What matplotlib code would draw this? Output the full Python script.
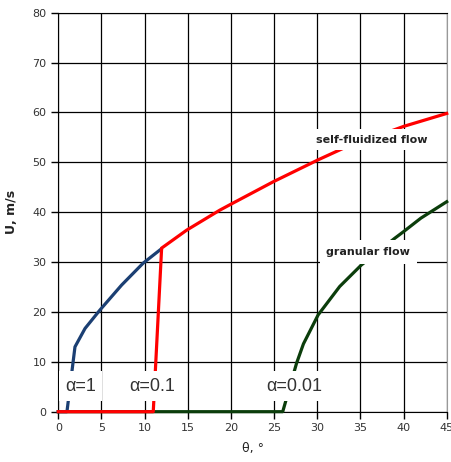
import matplotlib
matplotlib.use('Agg')
import matplotlib.pyplot as plt

# curves (theta in degrees, U in m/s)
theta_a1 = [0, 1.0, 1.93, 3.1, 4.83, 7.34, 9.84, 11.9]
U_a1 = [0, 0, 13.0, 16.7, 20.4, 25.4, 29.8, 32.6]

theta_a01 = [0, 11.0, 11.97, 14.87, 18.7, 20.1, 24.9, 30.1, 33.0, 40.0, 45.0]
U_a01 = [0, 0, 32.8, 36.4, 40.4, 41.7, 46.1, 50.5, 52.8, 57.2, 59.8]

theta_a001 = [0, 26.0, 27.6, 28.4, 30.1, 32.6, 35.1, 39.0, 40.0, 42.0, 45.0]
U_a001 = [0, 0, 9.7, 13.6, 19.4, 25.1, 29.4, 34.8, 36.1, 38.8, 42.1]

alpha_labels = ['\u03b1=1', '\u03b1=0.1', '\u03b1=0.01']
alpha_x = [0.8, 8.2, 24.1]

fig = plt.figure(figsize=(4.51, 4.62), dpi=100)
ax = fig.add_axes([0.1293, 0.1089, 0.8612, 0.8636])

ax.plot(theta_a001, U_a001, color='#0b3d0b', lw=2.3, clip_on=False, zorder=3)
ax.plot(theta_a1, U_a1, color='#1b3f73', lw=2.3, clip_on=False, zorder=3)
ax.plot(theta_a01, U_a01, color='#ff0000', lw=2.3, clip_on=False, zorder=3)

ax.set_xlim(0, 45)
ax.set_ylim(0, 80)
ax.set_xticks(range(0, 46, 5))
ax.set_yticks(range(0, 81, 10))
ax.grid(True, color='black', lw=0.9)
ax.set_axisbelow(True)
ax.tick_params(direction='out', length=5, width=1, labelsize=8, labelcolor='#333333')
ax.spines['right'].set_color('0.6')

for lab, x in zip(alpha_labels, alpha_x):
    ax.text(x, 4.2, lab, fontsize=13, family='Liberation Sans', color='#333333',
            ha='left', va='baseline', zorder=5,
            bbox=dict(boxstyle='square,pad=0.35', fc='white', ec='none'))

ax.text(36.3, 54.5, 'self-fluidized flow', fontsize=8, fontweight='bold', color='#222222',
        ha='center', va='center', zorder=5,
        bbox=dict(boxstyle='square,pad=0.5', fc='white', ec='none'))
ax.text(35.9, 32.0, 'granular flow', fontsize=8, fontweight='bold', color='#222222',
        ha='center', va='center', zorder=5,
        bbox=dict(boxstyle='square,pad=0.6', fc='white', ec='none'))

ax.set_xlabel('\u03b8, \u00b0', fontsize=9, color='#222222', labelpad=6)
ax.set_ylabel('U, m/s', fontsize=9, fontweight='bold', color='#222222', labelpad=10)

fig.savefig('out.png', dpi=100)
